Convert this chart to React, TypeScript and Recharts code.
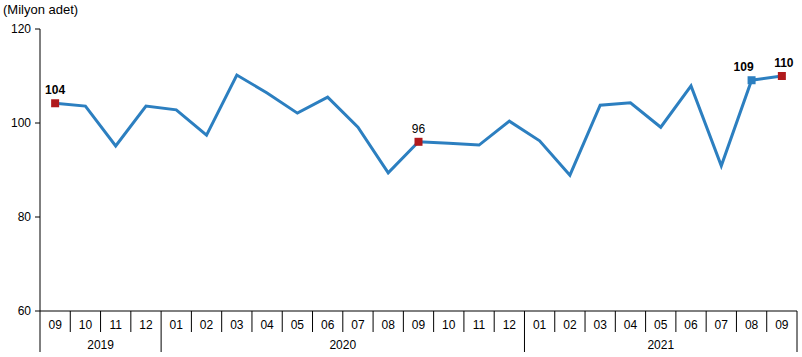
import { LineChart, Line, XAxis, YAxis, LabelList } from 'recharts';

const months = [
  '09', '10', '11', '12',
  '01', '02', '03', '04', '05', '06', '07', '08', '09', '10', '11', '12',
  '01', '02', '03', '04', '05', '06', '07', '08', '09',
];
const years = ['2019', '2020', '2021'];
const yearCounts = [4, 12, 9];
const values = [
  104.2, 103.6, 95.1, 103.6,
  102.8, 97.4, 110.2, 106.4, 102.1, 105.5, 99.1, 89.4, 96.0, 95.7, 95.3, 100.4,
  96.2, 88.9, 103.8, 104.3, 99.1, 107.9, 90.9, 109.1, 110.0,
];
const yTicks = [60, 80, 100, 120];
const labelled = [0, 12, 23, 24];

const W = 802;
const H = 357;
const LEFT = 40;
const RIGHT = 5;
const BAND = (W - LEFT - RIGHT) / months.length;
const FONT = '"Liberation Sans", Arial, sans-serif';
const BLUE = '#2c7fc0';
const RED = '#b0191c';

const data = months.map((m, i) => ({ key: i, month: m, value: values[i] }));

// first index of every year group
const yearStarts: number[] = [];
yearCounts.reduce((acc, n) => {
  yearStarts.push(acc);
  return acc + n;
}, 0);

function MonthTick(props: any) {
  const { x, y, payload, index } = props;
  const left = x - BAND / 2;
  const right = x + BAND / 2;
  const yi = yearStarts.indexOf(index);
  const isLast = index === months.length - 1;
  return (
    <g>
      <line x1={left} x2={left} y1={y} y2={yi >= 0 ? y + 41 : y + 21} stroke="#000" />
      {isLast && <line x1={right} x2={right} y1={y} y2={y + 41} stroke="#000" />}
      <text x={x} y={y + 18} textAnchor="middle" fontSize={12} fontFamily={FONT} fill="#000">
        {months[payload.value]}
      </text>
      {yi >= 0 && (
        <text
          x={left + (yearCounts[yi] * BAND) / 2}
          y={y + 38}
          textAnchor="middle"
          fontSize={12}
          fontFamily={FONT}
          fill="#000"
        >
          {years[yi]}
        </text>
      )}
    </g>
  );
}

function Marker(props: any) {
  const { cx, cy, index } = props;
  if (!labelled.includes(index)) return <g key={index} />;
  const fill = index === 23 ? BLUE : RED;
  return <rect key={index} x={cx - 4} y={cy - 4} width={8} height={8} fill={fill} />;
}

function PointLabel(props: any) {
  const { x, y, index, value } = props;
  if (!labelled.includes(index)) return null;
  const dx = index === 23 ? -8 : index === 24 ? 2 : 0;
  return (
    <text
      x={x + dx}
      y={y - 9}
      textAnchor="middle"
      fontSize={12}
      fontWeight={index === 12 ? 'normal' : 'bold'}
      fontFamily={FONT}
      fill="#000"
    >
      {Math.round(value)}
    </text>
  );
}

export default function App() {
  return (
    <div style={{ position: 'absolute', left: 0, top: 0, width: W, height: H, background: '#fff' }}>
      <div
        style={{
          position: 'absolute',
          left: 3,
          top: 2,
          fontFamily: FONT,
          fontSize: 13,
          color: '#000',
        }}
      >
        (Milyon adet)
      </div>
      <LineChart width={W} height={H} data={data} margin={{ top: 29, right: RIGHT, bottom: 0, left: 0 }}>
        <XAxis
          dataKey="key"
          type="category"
          height={46}
          padding={{ left: BAND / 2, right: BAND / 2 }}
          tickLine={false}
          tickSize={0}
          tickMargin={0}
          interval={0}
          axisLine={{ stroke: '#000' }}
          tick={<MonthTick />}
        />
        <YAxis
          domain={[60, 120]}
          ticks={yTicks}
          width={LEFT}
          tickSize={5}
          tickMargin={4}
          axisLine={{ stroke: '#000' }}
          tickLine={{ stroke: '#000' }}
          tick={{ fill: '#000', fontSize: 12, fontFamily: FONT }}
        />
        <Line
          dataKey="value"
          stroke={BLUE}
          strokeWidth={3}
          dot={<Marker />}
          activeDot={false}
          isAnimationActive={false}
        >
          <LabelList dataKey="value" content={<PointLabel />} />
        </Line>
      </LineChart>
    </div>
  );
}
